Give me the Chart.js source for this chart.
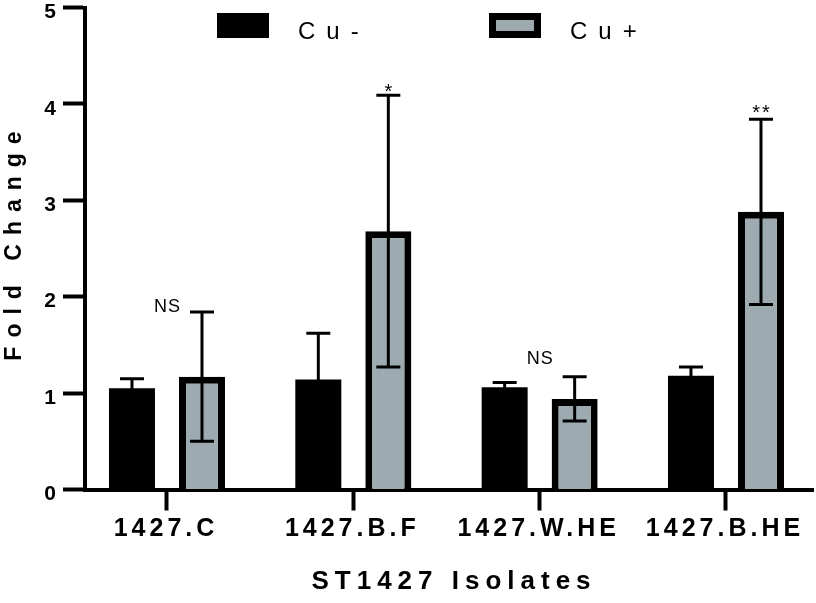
<!DOCTYPE html>
<html>
<head>
<meta charset="utf-8">
<script src="https://cdn.jsdelivr.net/npm/chart.js@4.4.1/dist/chart.umd.min.js"></script>
<style>
  html, body { margin: 0; padding: 0; background: #fff; overflow: hidden; }
  canvas { display: block; }
</style>
</head>
<body>
<canvas id="chart" width="816" height="603"></canvas>
<script>
const categories = ['1427.C', '1427.B.F', '1427.W.HE', '1427.B.HE'];
const seriesNames = ['Cu-', 'Cu+'];
const cuMinus = [1.05, 1.14, 1.06, 1.18];
const cuMinusErr = [0.10, 0.48, 0.05, 0.09];
const cuPlus = [1.17, 2.68, 0.94, 2.88];
const cuPlusErr = [0.67, 1.41, 0.23, 0.96];
const sigLabels = ['NS', '*', 'NS', '**'];
const sigAnchor = ['group', 'bar', 'group', 'bar'];
const sigY = [1.89, 4.12, 1.35, 3.90];
const yTicks = [0, 1, 2, 3, 4, 5];

const FONT = '"Liberation Sans", Arial, Helvetica, sans-serif';
const GREY = '#9dabb1';

function toPoints(values) {
  return values.map((v, i) => ({ x: i + 1, y: v }));
}

// draw text with letter spacing, centred on cx (trailing spacing removed)
function spacedText(ctx, text, cx, cy, spacing) {
  ctx.letterSpacing = spacing + 'px';
  const w = ctx.measureText(text).width - spacing;
  ctx.textAlign = 'left';
  ctx.fillText(text, cx - w / 2, cy);
}

const errorBars = {
  id: 'errorBars',
  afterDatasetsDraw(chart) {
    const { ctx } = chart;
    const y = chart.scales.y;
    ctx.save();
    ctx.strokeStyle = '#000';
    ctx.lineWidth = 3;
    chart.data.datasets.forEach((ds, di) => {
      chart.getDatasetMeta(di).data.forEach((bar, i) => {
        const v = ds.data[i].y;
        const e = ds.errors[i];
        const top = y.getPixelForValue(v + e);
        const bot = y.getPixelForValue(v - e);
        ctx.beginPath();
        ctx.moveTo(bar.x, bot);
        ctx.lineTo(bar.x, top);
        ctx.moveTo(bar.x - 12, top);
        ctx.lineTo(bar.x + 12, top);
        ctx.moveTo(bar.x - 12, bot);
        ctx.lineTo(bar.x + 12, bot);
        ctx.stroke();
      });
    });
    ctx.restore();
  },
};

const decorations = {
  id: 'decorations',
  beforeDraw(chart) {
    // tick labels are letter-spaced in the original
    chart.ctx.letterSpacing = '4px';
  },
  afterDraw(chart) {
    const { ctx } = chart;
    const x = chart.scales.x;
    const y = chart.scales.y;
    const ds = chart.data.datasets;
    ctx.save();
    ctx.fillStyle = '#000';
    ctx.textBaseline = 'middle';

    // significance marks
    sigLabels.forEach((label, i) => {
      const px = sigAnchor[i] === 'bar'
        ? chart.getDatasetMeta(1).data[i].x
        : x.getPixelForValue(i + 1);
      ctx.font = label === 'NS' ? `18px ${FONT}` : `20px ${FONT}`;
      spacedText(ctx, label, px, y.getPixelForValue(sigY[i]), label === 'NS' ? 1 : 2);
    });

    // axis titles
    ctx.font = `bold 26px ${FONT}`;
    spacedText(ctx, 'ST1427 Isolates', (x.left + x.right) / 2 + 2, 582, 6);
    ctx.save();
    ctx.translate(15, 246);
    ctx.rotate(-Math.PI / 2);
    ctx.font = `bold 23px ${FONT}`;
    spacedText(ctx, 'Fold Change', 0, 0, 9);
    ctx.restore();

    // legend
    const items = [{ x: 217 }, { x: 489 }];
    items.forEach((it, i) => {
      const d = ds[i];
      ctx.fillStyle = d.borderWidth ? d.borderColor : d.backgroundColor;
      ctx.fillRect(it.x, 13, 52, 25);
      if (d.borderWidth) {
        ctx.fillStyle = d.backgroundColor;
        ctx.fillRect(it.x + d.borderWidth, 13 + d.borderWidth, 52 - 2 * d.borderWidth, 25 - 2 * d.borderWidth);
      }
      ctx.fillStyle = '#000';
      ctx.font = `24px ${FONT}`;
      ctx.letterSpacing = '11px';
      ctx.textAlign = 'left';
      ctx.textBaseline = 'alphabetic';
      ctx.fillText(d.label, it.x + 81, 39);
    });
    ctx.restore();
  },
};

new Chart(document.getElementById('chart'), {
  type: 'bar',
  data: {
    datasets: [
      {
        label: seriesNames[0],
        data: toPoints(cuMinus),
        errors: cuMinusErr,
        backgroundColor: '#000',
        borderWidth: 0,
      },
      {
        label: seriesNames[1],
        data: toPoints(cuPlus),
        errors: cuPlusErr,
        backgroundColor: GREY,
        borderColor: '#000',
        borderWidth: 7,
      },
    ],
  },
  options: {
    responsive: false,
    animation: false,
    categoryPercentage: 0.7515,
    barPercentage: 0.657,
    layout: { padding: { top: 7.5, right: 3, bottom: 0, left: 0 } },
    plugins: {
      legend: { display: false },
      tooltip: { enabled: false },
    },
    scales: {
      x: {
        type: 'linear',
        offset: false,
        min: 0.56,
        max: 4.467,
        afterBuildTicks(scale) {
          scale.ticks = categories.map((_, i) => ({ value: i + 1 }));
        },
        afterFit(scale) {
          scale.height = 113.5;
          scale.paddingLeft = 0;
          scale.paddingRight = 0;
        },
        ticks: {
          callback: (v) => categories[v - 1],
          color: '#000',
          font: { family: FONT, size: 25, weight: 'bold' },
          padding: 4,
          labelOffset: -1,
          maxRotation: 0,
          autoSkip: false,
        },
        grid: {
          offset: false,
          drawOnChartArea: false,
          tickLength: 21,
          tickWidth: 4,
          tickColor: '#000',
        },
        border: { display: true, color: '#000', width: 4 },
      },
      y: {
        min: 0,
        max: 5,
        afterBuildTicks(scale) {
          scale.ticks = yTicks.map((v) => ({ value: v }));
        },
        afterFit(scale) {
          scale.width = 85;
          scale.paddingTop = 0;
          scale.paddingBottom = 0;
        },
        ticks: {
          color: '#000',
          font: { family: FONT, size: 21, weight: 'bold' },
          padding: 3,
          labelOffset: 5,
        },
        grid: {
          drawOnChartArea: false,
          tickLength: 22,
          tickWidth: 4,
          tickColor: '#000',
        },
        border: { display: true, color: '#000', width: 4 },
      },
    },
  },
  plugins: [errorBars, decorations],
});
</script>
</body>
</html>
